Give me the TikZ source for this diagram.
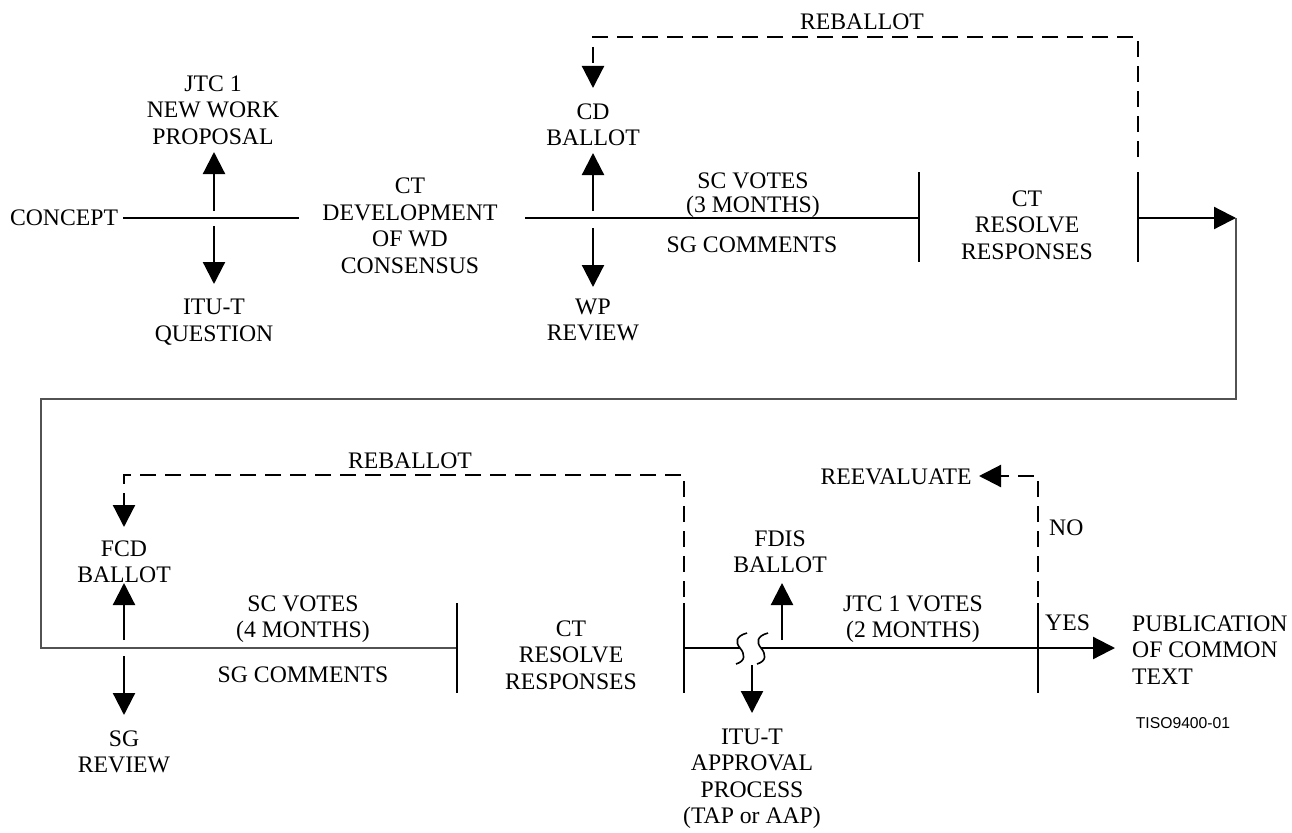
\documentclass[tikz,border=0pt]{standalone}
\usepackage{fontspec}
\setmainfont{Liberation Serif}
\newfontfamily\labsans{Liberation Sans}
\usetikzlibrary{arrows.meta}
\begin{document}
\begin{tikzpicture}[x=1pt,y=-1pt,
  lab/.style={font=\fontsize{23.7}{26.5}\selectfont, align=center, inner sep=0pt},
  labl/.style={font=\fontsize{23.7}{26.5}\selectfont, align=left, inner sep=0pt, anchor=west},
  main/.style={line width=2.2pt},
  link/.style={line width=1.4pt, draw=black!68},
  fb/.style={line width=2.2pt, dash pattern=on 16pt off 9pt},
  arr/.style={-{Triangle[length=22pt,width=22pt]}},
  wave/.style={line width=1.6pt}]
\useasboundingbox (0,0) rectangle (1292,832);

% ---------- labels, top row ----------
\node[lab] (concept) at (64,218) {CONCEPT};
\node[lab] (jtc) at (213,110) {JTC 1\\NEW WORK\\PROPOSAL};
\node[lab] (itu) at (214,322) {ITU-T\\QUESTION};
\node[lab] (ctdev) at (410,226) {CT\\DEVELOPMENT\\OF WD\\CONSENSUS};
\node[lab] (cd) at (593,125) {CD\\BALLOT};
\node[lab] (wp) at (593,320) {WP\\REVIEW};
\node[lab, font=\fontsize{23.7}{24}\selectfont] (scv1) at (753,195) {SC VOTES\\(3 MONTHS)};
\node[lab] (sgc1) at (752,245) {SG COMMENTS};
\node[lab] (ctres1) at (1027,225) {CT\\RESOLVE\\RESPONSES};
\node[lab] (rebal1) at (862,22) {REBALLOT};

% ---------- labels, bottom row ----------
\node[lab] (fcd) at (124,562) {FCD\\BALLOT};
\node[lab] (sgrev) at (124,752) {SG\\REVIEW};
\node[lab] (rebal2) at (410,461) {REBALLOT};
\node[lab] (scv2) at (303,619) {SC VOTES\\(4 MONTHS)};
\node[lab] (sgc2) at (303,675) {SG COMMENTS};
\node[lab] (ctres2) at (571,655) {CT\\RESOLVE\\RESPONSES};
\node[lab] (fdis) at (780,552) {FDIS\\BALLOT};
\node[lab] (itu2) at (752,779) {ITU-T\\APPROVAL\\PROCESS\\(TAP or AAP)};
\node[lab] (jtcv) at (913,619) {JTC 1 VOTES\\(2 MONTHS)};
\node[lab] (reeval) at (896,477) {REEVALUATE};
\node[labl] (no) at (1049,528) {NO};
\node[labl] (yes) at (1045,623) {YES};
\node[labl] (pub) at (1132,650) {PUBLICATION\\OF COMMON\\TEXT};
\node[font=\labsans\fontsize{15.7}{18}\selectfont, inner sep=0pt] (tiso) at (1183,723) {TISO9400-01};

% ---------- named points ----------
\coordinate (a0) at (123,218);
\coordinate (a1) at (299,218);
\coordinate (a2) at (525,218);
\coordinate (b1) at (919,218);
\coordinate (b2) at (1138,218);
\coordinate (a3) at (1236,218);
\coordinate (d1) at (1236,399);
\coordinate (d2) at (41,399);
\coordinate (d3) at (41,648);
\coordinate (b3) at (457,648);
\coordinate (b4) at (684,648);
\coordinate (w1) at (740,648);
\coordinate (w2) at (761,648);
\coordinate (b5) at (1038,648);
\coordinate (a4) at (1115,648);

% ---------- top row lines ----------
\draw[main] (a0) -- (a1);
\draw[main] (a2) -- (b1);
\draw[main] (919,172) -- (919,262);
\draw[main] (1138,172) -- (1138,262);
\draw[main,arr] (b2) -- (a3);
\draw[main,arr] (214,211) -- (214,152);
\draw[main,arr] (214,226) -- (214,284);
\draw[main,arr] (593,211) -- (593,153);
\draw[main,arr] (593,228) -- (593,287);
\draw[fb,arr] (1138,157) -- (1138,37) -- (593,37) -- (593,88);

% ---------- return link ----------
\draw[link] (a3) -- (d1) -- (d2) -- (d3) -- (b3);

% ---------- bottom row lines ----------
\draw[main] (457,603) -- (457,693);
\draw[main] (684,603) -- (684,693);
\draw[main] (1038,603) -- (1038,693);
\draw[main,arr] (124,640) -- (124,583);
\draw[main,arr] (124,656) -- (124,715);
\draw[fb,arr] (684,597) -- (684,475) -- (124,475) -- (124,527);
\draw[main] (b4) -- (w1);
\draw[wave] (747,633) .. controls (736,636) and (735,642) .. (740,648) .. controls (745,654) and (746,661) .. (736,664);
\draw[wave] (768,633) .. controls (757,636) and (756,642) .. (761,648) .. controls (766,654) and (767,661) .. (757,664);
\draw[main,arr] (w2) -- (a4);
\draw[main,arr] (782,640) -- (782,583);
\draw[main,arr] (752,665) -- (752,713);
\draw[fb,arr] (1038,597) -- (1038,476) -- (979,476);
\end{tikzpicture}
\end{document}
